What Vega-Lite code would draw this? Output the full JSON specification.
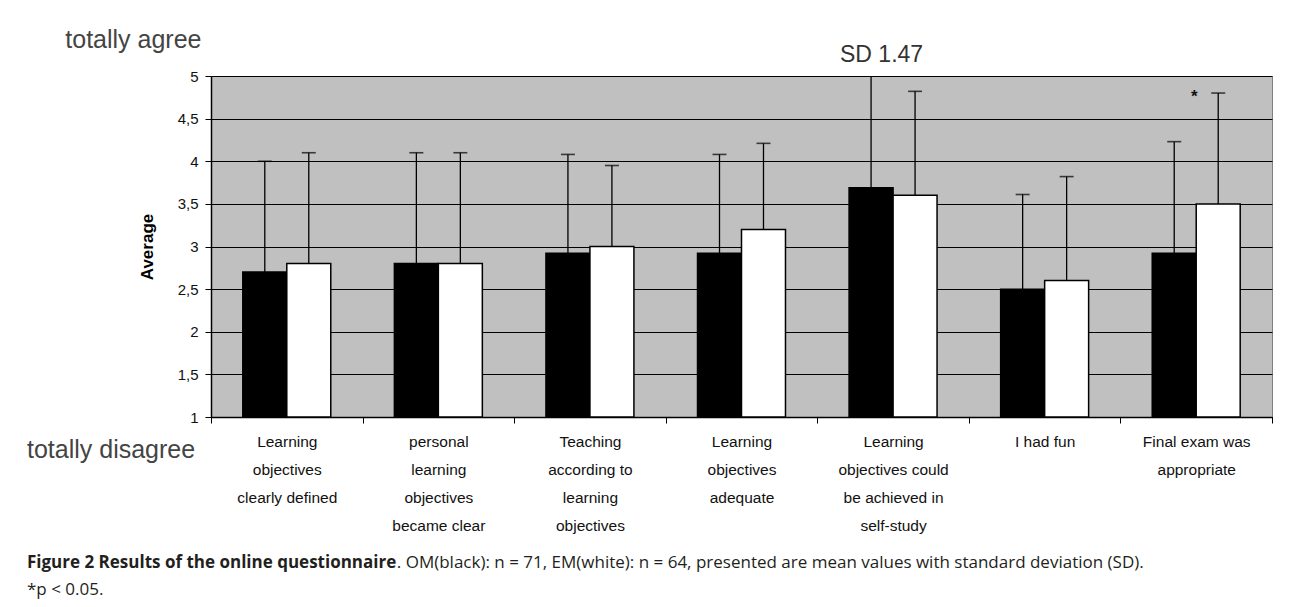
{
  "$schema": "https://vega.github.io/schema/vega-lite/v6.json",
  "width": 1061,
  "height": 341,
  "autosize": "none",
  "padding": {"left": 211, "top": 76, "right": 20, "bottom": 190},
  "background": "white",
  "config": {
    "view": {"fill": "#c0c0c0", "stroke": "#808080", "strokeWidth": 1},
    "font": "Liberation Sans"
  },
  "datasets": {
    "scores": [
      {"item": "Learning objectives clearly defined", "group": "OM", "mean": 2.7, "upper": 4.0},
      {"item": "Learning objectives clearly defined", "group": "EM", "mean": 2.8, "upper": 4.1},
      {"item": "personal learning objectives became clear", "group": "OM", "mean": 2.8, "upper": 4.1},
      {"item": "personal learning objectives became clear", "group": "EM", "mean": 2.8, "upper": 4.1},
      {"item": "Teaching according to learning objectives", "group": "OM", "mean": 2.92, "upper": 4.08},
      {"item": "Teaching according to learning objectives", "group": "EM", "mean": 3.0, "upper": 3.95},
      {"item": "Learning objectives adequate", "group": "OM", "mean": 2.92, "upper": 4.08},
      {"item": "Learning objectives adequate", "group": "EM", "mean": 3.2, "upper": 4.21},
      {"item": "Learning objectives could be achieved in self-study", "group": "OM", "mean": 3.69, "upper": 5.16},
      {"item": "Learning objectives could be achieved in self-study", "group": "EM", "mean": 3.6, "upper": 4.82},
      {"item": "I had fun", "group": "OM", "mean": 2.5, "upper": 3.61},
      {"item": "I had fun", "group": "EM", "mean": 2.6, "upper": 3.82},
      {"item": "Final exam was appropriate", "group": "OM", "mean": 2.92, "upper": 4.23},
      {"item": "Final exam was appropriate", "group": "EM", "mean": 3.5, "upper": 4.8}
    ]
  },
  "layer": [
    {
      "data": {"name": "scores"},
      "mark": {"type": "bar", "stroke": "#000000", "strokeWidth": 1.5},
      "encoding": {
        "x": {
          "field": "item",
          "type": "nominal",
          "scale": {
            "domain": [
              "Learning objectives clearly defined",
              "personal learning objectives became clear",
              "Teaching according to learning objectives",
              "Learning objectives adequate",
              "Learning objectives could be achieved in self-study",
              "I had fun",
              "Final exam was appropriate"
            ],
            "paddingInner": 0,
            "paddingOuter": 0
          },
          "axis": {
            "title": null,
            "labelAngle": 0,
            "labelExpr": "{'Learning objectives clearly defined': ['Learning', 'objectives', 'clearly defined'], 'personal learning objectives became clear': ['personal', 'learning', 'objectives', 'became clear'], 'Teaching according to learning objectives': ['Teaching', 'according to', 'learning', 'objectives'], 'Learning objectives adequate': ['Learning', 'objectives', 'adequate'], 'Learning objectives could be achieved in self-study': ['Learning', 'objectives could', 'be achieved in', 'self-study'], 'I had fun': ['I had fun'], 'Final exam was appropriate': ['Final exam was', 'appropriate']}[datum.value]",
            "labelFont": "Liberation Sans",
            "labelFontSize": 15.5,
            "labelColor": "#111111",
            "labelLineHeight": 28,
            "labelBaseline": "top",
            "labelPadding": 11,
            "labelLimit": 0,
            "tickBand": "extent",
            "tickSize": 6,
            "tickColor": "#000000",
            "domainColor": "#000000",
            "domainWidth": 1.5
          }
        },
        "xOffset": {
          "field": "group",
          "type": "nominal",
          "scale": {"domain": ["OM", "EM"], "paddingInner": 0, "paddingOuter": 0.723}
        },
        "y": {
          "field": "mean",
          "type": "quantitative",
          "scale": {"domain": [1, 5], "nice": false, "zero": false},
          "axis": {
            "title": "Average",
            "values": [1, 1.5, 2, 2.5, 3, 3.5, 4, 4.5, 5],
            "format": "~g",
            "labelExpr": "replace(datum.label, '.', ',')",
            "labelFont": "Liberation Sans",
            "labelFontSize": 15,
            "labelColor": "#111111",
            "labelPadding": 7,
            "tickSize": 6,
            "tickColor": "#000000",
            "domainColor": "#000000",
            "domainWidth": 1.5,
            "grid": true,
            "gridColor": "#000000",
            "gridWidth": 1.2,
            "titleFont": "Liberation Sans",
            "titleFontWeight": "bold",
            "titleFontSize": 17,
            "titleColor": "#000000",
            "titlePadding": 21
          }
        },
        "y2": {"datum": 1},
        "fill": {
          "field": "group",
          "type": "nominal",
          "scale": {"domain": ["OM", "EM"], "range": ["#000000", "#ffffff"]},
          "legend": null
        }
      }
    },
    {
      "data": {"name": "scores"},
      "mark": {"type": "rule", "color": "#000000", "strokeWidth": 1.3, "clip": true},
      "encoding": {
        "x": {"field": "item", "type": "nominal"},
        "xOffset": {"field": "group", "type": "nominal"},
        "y": {"field": "mean", "type": "quantitative"},
        "y2": {"field": "upper"}
      }
    },
    {
      "data": {"name": "scores"},
      "mark": {"type": "tick", "color": "#000000", "thickness": 1.6, "size": 14, "clip": true},
      "encoding": {
        "x": {"field": "item", "type": "nominal"},
        "xOffset": {"field": "group", "type": "nominal"},
        "y": {"field": "upper", "type": "quantitative"}
      }
    },
    {
      "data": {"values": [{"note": "totally agree"}]},
      "mark": {"type": "text", "align": "left", "baseline": "middle", "dx": -221.5, "font": "Liberation Sans", "fontSize": 25, "color": "#444444"},
      "encoding": {
        "x": {"datum": "Learning objectives clearly defined"},
        "y": {"datum": 5.42},
        "text": {"field": "note"}
      }
    },
    {
      "data": {"values": [{"note": "totally disagree"}]},
      "mark": {"type": "text", "align": "left", "baseline": "middle", "dx": -259.8, "font": "Liberation Sans", "fontSize": 25, "color": "#444444"},
      "encoding": {
        "x": {"datum": "Learning objectives clearly defined"},
        "y": {"datum": 0.613},
        "text": {"field": "note"}
      }
    },
    {
      "data": {"values": [{"note": "SD 1.47"}]},
      "mark": {"type": "text", "align": "center", "baseline": "middle", "dx": -11.5, "font": "Liberation Sans", "fontSize": 23, "color": "#333333"},
      "encoding": {
        "x": {"datum": "Learning objectives could be achieved in self-study"},
        "y": {"datum": 5.246},
        "text": {"field": "note"}
      }
    },
    {
      "data": {"values": [{"note": "*"}]},
      "mark": {"type": "text", "align": "center", "baseline": "alphabetic", "dx": -2, "font": "Liberation Sans", "fontSize": 17, "fontWeight": "bold", "color": "#111111"},
      "encoding": {
        "x": {"datum": "Final exam was appropriate"},
        "y": {"datum": 4.695},
        "text": {"field": "note"}
      }
    },
    {
      "data": {"values": [{"note": "Figure 2 Results of the online questionnaire"}]},
      "mark": {"type": "text", "align": "left", "baseline": "middle", "dx": -259.8, "font": "Open Sans", "fontSize": 17, "fontWeight": "bold", "color": "#231f20"},
      "encoding": {
        "x": {"datum": "Learning objectives clearly defined"},
        "y": {"datum": -0.713},
        "text": {"field": "note"}
      }
    },
    {
      "data": {"values": [{"note": ". OM(black): n = 71, EM(white): n = 64, presented are mean values with standard deviation (SD)."}]},
      "mark": {"type": "text", "align": "left", "baseline": "middle", "dx": 110, "font": "Open Sans", "fontSize": 17, "color": "#231f20"},
      "encoding": {
        "x": {"datum": "Learning objectives clearly defined"},
        "y": {"datum": -0.713},
        "text": {"field": "note"}
      }
    },
    {
      "data": {"values": [{"note": "*p < 0.05."}]},
      "mark": {"type": "text", "align": "left", "baseline": "middle", "dx": -259.8, "font": "Open Sans", "fontSize": 17, "color": "#231f20"},
      "encoding": {
        "x": {"datum": "Learning objectives clearly defined"},
        "y": {"datum": -1.029},
        "text": {"field": "note"}
      }
    }
  ]
}
